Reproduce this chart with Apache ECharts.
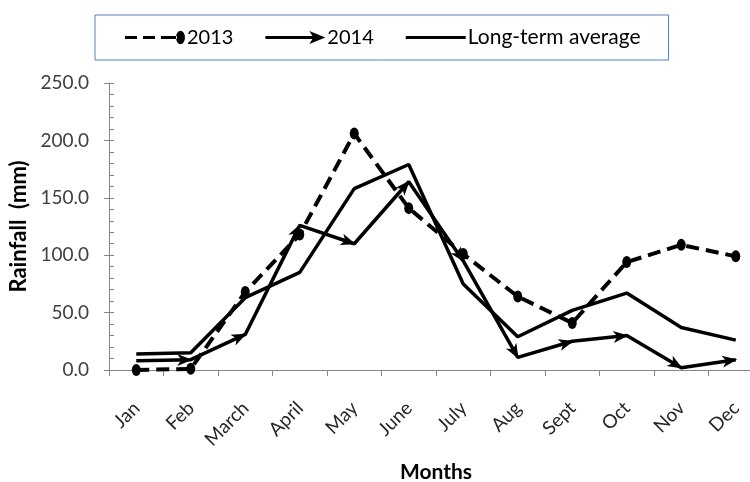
<!DOCTYPE html>
<html><head><meta charset="utf-8">
<script src="https://cdn.jsdelivr.net/npm/echarts@6/dist/echarts.min.js"></script>
<style>html,body{margin:0;padding:0;background:#fff}#c{width:750px;height:482px}</style>
</head><body><div id="c"></div>
<script>
const months = ['Jan','Feb','March','April','May','June','July','Aug','Sept','Oct','Nov','Dec'];
const rain2013 = [0, 1, 68, 118, 206, 141, 101, 64, 41, 94, 109, 99];
const rain2014 = [8, 9, 31, 126, 110, 164, 95, 11, 25, 30, 2, 9];
const longTermAvg = [14, 15, 63, 85, 158, 179, 75, 29, 52, 67, 37, 26];
const seriesNames = ['2013', '2014', 'Long-term average'];

const FONT = 'Lato';
const AXIS_COLOR = '#868686';
const corners = 'M0,0h0.01v0.01h-0.01Z M60,14h0.01v0.01h-0.01Z ';
const icon2013 = 'path://' + corners + 'M0,5.5H12V8.5H0Z M18,5.5H30V8.5H18Z M36,5.5H52V8.5H36Z M51,7A4.5,6.8 0 1,0 60,7A4.5,6.8 0 1,0 51,7Z';
const icon2014 = 'path://' + corners + 'M0,5.5H52V8.5H0Z M44,0.5L60,7L44,13.5L48,7Z';
const iconAvg = 'path://' + corners + 'M0,5.5H60V8.5H0Z';
const arrowPath = 'path://M5,0L10,13L5,9.5L0,13Z';

const chart = echarts.init(document.getElementById('c'));
const option = {
  animation: false,
  backgroundColor: '#fff',
  textStyle: { fontFamily: FONT },
  legend: {
    left: 95, top: 15,
    padding: [12, 28, 12, 30],
    borderColor: '#4F81BD', borderWidth: 1,
    itemWidth: 60, itemHeight: 14, itemGap: 32,
    itemStyle: { borderWidth: 0 },
    textStyle: { fontFamily: FONT, fontSize: 20, color: '#000', padding: [0, 0, 0, -3] },
    data: [
      { name: seriesNames[0], icon: icon2013 },
      { name: seriesNames[1], icon: icon2014 },
      { name: seriesNames[2], icon: iconAvg, textStyle: { fontSize: 21 } }
    ]
  },
  grid: { left: 109, top: 83, width: 654, height: 287, containLabel: false, outerBoundsMode: 'none' },
  xAxis: {
    type: 'category',
    data: months,
    boundaryGap: true,
    name: 'Months',
    nameLocation: 'middle',
    nameGap: 92,
    nameTextStyle: { fontFamily: FONT, fontSize: 21, fontWeight: 'bold', color: '#000' },
    axisLine: { lineStyle: { color: AXIS_COLOR, width: 1 } },
    axisTick: { show: true, length: 6, lineStyle: { color: AXIS_COLOR } },
    axisLabel: { rotate: 45, margin: 22, align: 'right', verticalAlign: 'top', padding: [0, 9, 0, 0], fontFamily: FONT, fontSize: 19, color: '#262626' },
    splitLine: { show: false }
  },
  yAxis: [
    {
      type: 'value', min: 0, max: 250, interval: 50,
      name: 'Rainfall  (mm)',
      nameLocation: 'middle',
      nameGap: 76,
      nameTextStyle: { fontFamily: FONT, fontSize: 22, fontWeight: 'bold', color: '#000' },
      axisLine: { show: true, lineStyle: { color: AXIS_COLOR, width: 1 } },
      axisTick: { show: true, length: 5, lineStyle: { color: AXIS_COLOR } },
      axisLabel: { margin: 20, fontFamily: FONT, fontSize: 19, color: '#404040', formatter: v => v.toFixed(1) },
      splitLine: { show: false }
    },
    {
      type: 'value', min: 0, max: 250, interval: 10, position: 'left',
      axisLine: { show: false },
      axisTick: { show: true, inside: true, length: 5, lineStyle: { color: AXIS_COLOR } },
      axisLabel: { show: false },
      splitLine: { show: false }
    }
  ],
  series: [
    {
      name: seriesNames[0], type: 'line', data: rain2013, yAxisIndex: 0,
      color: '#000',
      lineStyle: { color: '#000', width: 4, type: [13, 7] },
      symbol: 'circle', symbolSize: [9, 12],
      itemStyle: { color: '#000', borderWidth: 0 },
      z: 3
    },
    {
      name: seriesNames[1], type: 'line', data: rain2014, yAxisIndex: 0,
      color: '#000',
      lineStyle: { color: '#000', width: 3.5 },
      symbol: arrowPath, symbolSize: [12, 15],
      itemStyle: { color: '#000', borderWidth: 0 },
      z: 4
    },
    {
      name: seriesNames[2], type: 'line', data: longTermAvg, yAxisIndex: 0,
      color: '#000',
      lineStyle: { color: '#000', width: 3.5 },
      symbol: 'none',
      itemStyle: { color: '#000' },
      z: 2
    }
  ]
};
chart.setOption(option);

// orient arrowheads of the 2014 series along each incoming segment
const half = 6;
const arrowData = rain2014.map((v, i) => {
  if (i === 0) return { value: v, symbol: 'none' };
  const p0 = chart.convertToPixel({ xAxisIndex: 0, yAxisIndex: 0 }, [i - 1, rain2014[i - 1]]);
  const p1 = chart.convertToPixel({ xAxisIndex: 0, yAxisIndex: 0 }, [i, v]);
  const dx = p1[0] - p0[0], dy = p1[1] - p0[1];
  const len = Math.hypot(dx, dy) || 1;
  const ang = Math.atan2(-dy, dx) * 180 / Math.PI - 90;
  return { value: v, symbolRotate: ang, symbolOffset: [-dx / len * half, -dy / len * half] };
});
chart.setOption({ series: [{}, { data: arrowData }, {}] });
</script></body></html>
